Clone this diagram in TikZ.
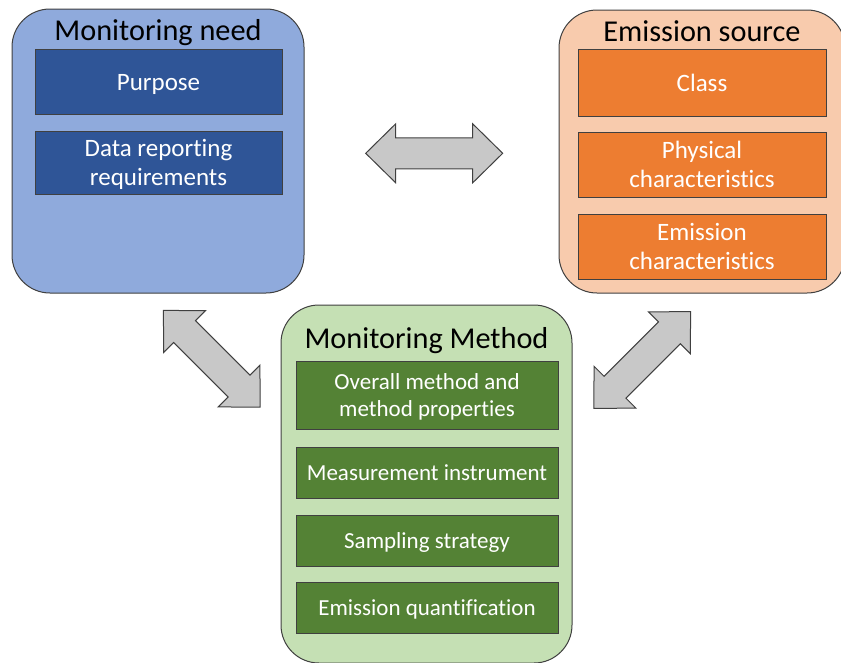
\documentclass[tikz,border=0pt]{standalone}
\usepackage{fontspec}
\setmainfont{Carlito}[Ligatures={NoCommon,NoContextual}]
\definecolor{bluelight}{HTML}{8FAADC}
\definecolor{bluedark}{HTML}{2F5597}
\definecolor{orangelight}{HTML}{F8CBAD}
\definecolor{orangedark}{HTML}{ED7D31}
\definecolor{greenlight}{HTML}{C5E0B4}
\definecolor{greendark}{HTML}{548235}
\definecolor{arrowgray}{HTML}{C8C8C8}
\definecolor{edgegray}{HTML}{404040}
\newcommand{\lineup}[1]{\raisebox{0pt}[0.72em][0.04em]{#1}}
\newcommand{\blockarrow}[3]{%
  \begin{scope}[shift={(#1,#2)},rotate=#3]
    \draw[arrowstyle] (-68.5,0) -- (-38.5,-29.5) -- (-38.5,-15.5) -- (38.5,-15.5)
      -- (38.5,-29.5) -- (68.5,0) -- (38.5,29.5) -- (38.5,15.5) -- (-38.5,15.5)
      -- (-38.5,29.5) -- cycle;
  \end{scope}}
\tikzset{
  outerbox/.style={draw=edgegray, line width=1pt, rounded corners=38pt, inner sep=0pt},
  innerbox/.style={draw=black!75, line width=0.8pt, inner sep=0pt, align=center,
    text=white, font=\fontsize{25}{28.5}\selectfont},
  greeninner/.style={innerbox, fill=greendark, minimum width=262pt,
    font=\fontsize{23}{27}\selectfont},
  titletext/.style={anchor=base, font=\fontsize{30.3}{34}\selectfont, text=black, inner sep=0pt},
  arrowstyle/.style={draw=edgegray, fill=arrowgray, line width=1pt, line join=miter},
}
\begin{document}
\begin{tikzpicture}[x=1pt,y=-1pt]
\clip (0,0) rectangle (841,662);
% Monitoring need
\node[outerbox, fill=bluelight, minimum width=292pt, minimum height=284pt] (need) at (158,151) {};
\node[titletext] (needtitle) at (158,40) {Monitoring need};
\node[innerbox, fill=bluedark, minimum width=247pt, minimum height=65pt] (purpose) at (158.5,81.5) {\lineup{Purpose}};
\node[innerbox, fill=bluedark, minimum width=247pt, minimum height=63pt] (datarep) at (158.5,162.5) {\lineup{Data reporting}\\\lineup{requirements}};
% Emission source
\node[outerbox, fill=orangelight, minimum width=286pt, minimum height=283pt] (source) at (702,151.5) {};
\node[titletext] (sourcetitle) at (702,41) {Emission source};
\node[innerbox, fill=orangedark, minimum width=248pt, minimum height=67pt] (class) at (702,82.5) {\lineup{Class}};
\node[innerbox, fill=orangedark, minimum width=248pt, minimum height=65pt] (physical) at (702,164.5) {\lineup{Physical}\\\lineup{characteristics}};
\node[innerbox, fill=orangedark, minimum width=248pt, minimum height=65pt] (emchar) at (702,246.5) {\lineup{Emission}\\\lineup{characteristics}};
% Monitoring Method
\node[outerbox, fill=greenlight, minimum width=291pt, minimum height=358pt] (method) at (426.5,484) {};
\node[titletext] (methodtitle) at (426.5,348) {Monitoring Method};
\node[greeninner, minimum height=68pt] (overall) at (427,395) {\lineup{Overall method and}\\\lineup{method properties}};
\node[greeninner, minimum height=51pt] (instrument) at (427,472.5) {\lineup{Measurement instrument}};
\node[greeninner, minimum height=51pt] (sampling) at (427,540.5) {\lineup{Sampling strategy}};
\node[greeninner, minimum height=51pt] (quant) at (427,607.5) {\lineup{Emission quantification}};
% Block arrows
\blockarrow{434.2}{153.3}{0}
\blockarrow{211.8}{358.8}{-45}
\blockarrow{642.2}{360}{45}
\end{tikzpicture}
\end{document}
